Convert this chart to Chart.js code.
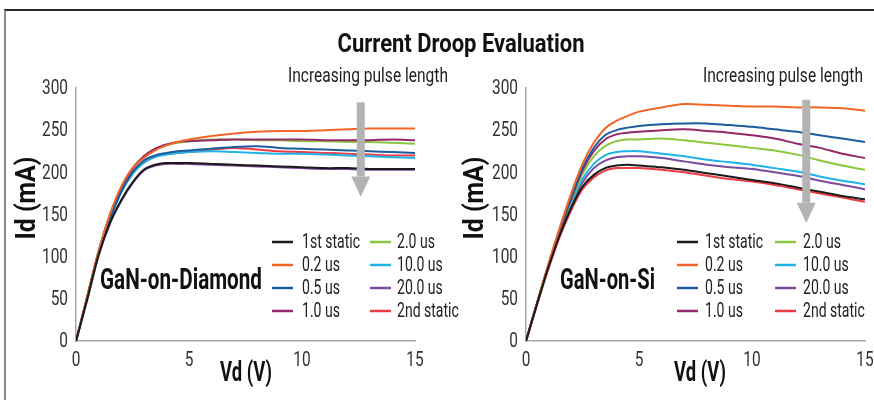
<!DOCTYPE html>
<html>
<head>
<meta charset="utf-8">
<script src="https://cdn.jsdelivr.net/npm/chart.js@4.4.1/dist/chart.umd.min.js"></script>
<style>
  html, body { margin: 0; padding: 0; background: #fff; }
  #wrap { position: relative; width: 874px; height: 400px; overflow: hidden; }
  #frame { position: absolute; left: 4px; top: 9px; right: 0; bottom: 0; border-top: 2px solid #2a2a2a; border-left: 2px solid #8a8a8a; }
  #title { position: absolute; left: 0; width: 922px; top: 28px; text-align: center; font: bold 26px Roboto, sans-serif; color: #111; white-space: nowrap; }
  #title span { display: inline-block; transform-origin: 50% 50%; }
  canvas { position: absolute; top: 0; }
</style>
</head>
<body>
<div id="wrap">
  <div id="frame"></div>
  <canvas id="diamond" width="470" height="400" style="left:0"></canvas>
  <canvas id="si" width="437" height="400" style="left:437px"></canvas>
  <div id="title"><span>Current Droop Evaluation</span></div>
</div>
<script>
const FONT = 'Roboto, sans-serif'

// drain voltage (V)
const vd = [0, 0.5, 1, 1.5, 2, 2.5, 3, 3.5, 4, 4.5, 5, 6, 7, 8, 9, 10, 11, 12, 13, 14, 15]

const seriesNames = ['1st static', '0.2 us', '0.5 us', '1.0 us', '2.0 us', '10.0 us', '20.0 us', '2nd static']
const colours = ['#1a1a1a', '#f26527', '#1d5c9e', '#93296b', '#8cc63f', '#1fb4e8', '#7a4b9d', '#ee3a43']

// drain current (mA), GaN-on-Diamond
const diamondStatic1 = [0, 50, 102, 140, 167, 188, 203, 209, 211, 211, 211, 210, 209, 208, 207, 206, 205, 205, 204, 204, 204]
const diamond02 = [0, 53, 106, 150, 183, 205, 217, 226, 232, 236, 239, 243, 246, 248, 249, 249, 250, 251, 252, 252, 252]
const diamond05 = [0, 52, 104, 145, 177, 200, 214, 220, 223, 225, 226, 228, 230, 231, 229, 228, 227, 226, 225, 224, 223]
const diamond10 = [0, 53, 106, 149, 181, 204, 219, 228, 233, 236, 237, 238, 239, 239, 239, 239, 238, 238, 238, 239, 238]
const diamond20 = [0, 53, 107, 150, 182, 205, 219, 227, 232, 235, 237, 239, 239, 238, 238, 237, 237, 236, 236, 235, 234]
const diamond100 = [0, 51, 102, 143, 176, 198, 211, 218, 221, 223, 224, 225, 224, 223, 222, 222, 221, 220, 219, 218, 217]
const diamond200 = [0, 49, 101, 139, 166, 187, 202, 208, 210, 210, 210, 209, 208, 207, 206, 205, 204, 204, 203, 203, 203]
const diamondStatic2 = [0, 52, 104, 145, 178, 200, 213, 219, 222, 223, 224, 227, 229, 227, 225, 224, 223, 222, 221, 220, 220]

// drain current (mA), GaN-on-Si
const siStatic1 = [0, 45, 88, 126, 158, 183, 197, 205, 208, 209, 208, 206, 203, 199, 195, 191, 187, 182, 177, 172, 168]
const si02 = [0, 46, 92, 135, 175, 210, 235, 252, 261, 267, 272, 277, 281, 280, 279, 278, 278, 277, 277, 276, 273]
const si05 = [0, 46, 91, 133, 170, 205, 229, 244, 250, 253, 255, 257, 258, 258, 256, 254, 251, 248, 244, 240, 236]
const si10 = [0, 46, 91, 132, 168, 202, 225, 239, 245, 247, 248, 250, 251, 249, 247, 244, 240, 234, 229, 222, 217]
const si20 = [0, 46, 90, 131, 166, 198, 219, 231, 237, 239, 239, 240, 238, 235, 232, 229, 226, 221, 214, 208, 203]
const si100 = [0, 45, 89, 129, 163, 192, 210, 220, 224, 225, 225, 222, 219, 215, 212, 209, 205, 201, 195, 190, 186]
const si200 = [0, 45, 89, 128, 161, 188, 205, 214, 218, 219, 219, 217, 213, 209, 206, 204, 200, 196, 190, 185, 180]
const siStatic2 = [0, 44, 86, 124, 155, 180, 194, 202, 205, 205, 205, 203, 200, 196, 192, 189, 185, 180, 175, 170, 165]

const yTicks = [0, 50, 100, 150, 200, 250, 300]
const xTicks = [0, 5, 10, 15]

// the source uses a very condensed face, so text is squeezed horizontally
function squeeze(ctx, text, x, y, sx, align) {
  ctx.save()
  ctx.translate(x, y)
  ctx.scale(sx, 1)
  ctx.textAlign = align
  ctx.fillText(text, 0, 0)
  ctx.restore()
}

const fitTo = (ctx, text, w) => w / ctx.measureText(text).width

const narrowTicks = {
  id: 'narrowTicks',
  afterDraw(chart) {
    const { ctx, scales: { x, y } } = chart
    ctx.save()
    ctx.fillStyle = '#333'
    ctx.textBaseline = 'middle'
    ctx.font = '21px ' + FONT
    const sx = fitTo(ctx, '300', 26)
    y.ticks.forEach(t => squeeze(ctx, String(t.value), x.left - 8, y.getPixelForValue(t.value) + 1, sx, 'right'))
    x.ticks.forEach(t => squeeze(ctx, String(t.value), x.getPixelForValue(t.value), 361, sx, 'center'))
    ctx.restore()
  }
}

const pairLegend = {
  id: 'pairLegend',
  afterDraw(chart, args, opts) {
    const ctx = chart.ctx
    ctx.save()
    ctx.font = '20px ' + FONT
    ctx.textBaseline = 'middle'
    const sx = fitTo(ctx, '1st static', 58)
    chart.data.datasets.forEach((d, i) => {
      const col = Math.floor(i / 4)
      const y = opts.top + (i % 4) * opts.rowGap
      ctx.strokeStyle = d.borderColor
      ctx.lineWidth = 2.5
      ctx.beginPath()
      ctx.moveTo(opts.lineX[col], y)
      ctx.lineTo(opts.lineX[col] + 21, y)
      ctx.stroke()
      ctx.fillStyle = '#222'
      squeeze(ctx, d.label, opts.textX[col], y + 1, sx, 'left')
    })
    ctx.restore()
  }
}

const notes = {
  id: 'notes',
  afterDatasetsDraw(chart, args, opts) {
    const { ctx, scales: { x, y } } = chart
    const ax = x.getPixelForValue(opts.arrow.x)
    const top = y.getPixelForValue(opts.arrow.from)
    const head = y.getPixelForValue(opts.arrow.head)
    const tip = y.getPixelForValue(opts.arrow.to)
    ctx.save()
    ctx.fillStyle = '#b3b3b3'
    ctx.fillRect(ax - 4, top, 8, head - top)
    ctx.beginPath()
    ctx.moveTo(ax - 9.5, head)
    ctx.lineTo(ax + 9.5, head)
    ctx.lineTo(ax, tip)
    ctx.closePath()
    ctx.fill()

    ctx.textBaseline = 'middle'
    ctx.fillStyle = '#222'
    ctx.font = '21px ' + FONT
    const pulse = 'Increasing pulse length'
    squeeze(ctx, pulse, opts.pulseX, 77, fitTo(ctx, pulse, 160), 'center')

    ctx.fillStyle = '#111'
    ctx.font = 'bold 29px ' + FONT
    squeeze(ctx, opts.name, opts.nameX, 282, fitTo(ctx, opts.name, opts.nameW), 'left')

    ctx.font = 'bold 27px ' + FONT
    squeeze(ctx, 'Vd (V)', opts.vdX, 374, fitTo(ctx, 'Vd (V)', 52), 'center')

    ctx.font = 'bold 28px ' + FONT
    const f = fitTo(ctx, 'Id (mA)', 83)
    ctx.translate(opts.idX, 198)
    ctx.rotate(-Math.PI / 2)
    squeeze(ctx, 'Id (mA)', 0, 0, f, 'center')
    ctx.restore()
  }
}

function makeChart(id, series, cfg) {
  return new Chart(document.getElementById(id), {
    type: 'line',
    data: {
      labels: vd,
      datasets: series.map((s, i) => ({
        label: seriesNames[i],
        data: s.map((v, j) => ({ x: vd[j], y: v })),
        borderColor: colours[i],
        borderWidth: 2,
        pointRadius: 0,
        tension: 0.35
      }))
    },
    options: {
      responsive: false,
      animation: false,
      layout: { padding: { left: 0, top: 88, right: cfg.padRight, bottom: 0 } },
      plugins: {
        legend: { display: false },
        tooltip: { enabled: false },
        pairLegend: cfg.legend,
        notes: cfg.notes
      },
      scales: {
        x: {
          type: 'linear',
          min: 0,
          max: 15,
          afterBuildTicks: s => { s.ticks = xTicks.map(v => ({ value: v })) },
          afterFit: s => { s.height = 59 },
          grid: { drawOnChartArea: false, drawTicks: false },
          border: { color: '#a8a8a8', width: 1.5 },
          ticks: { display: false }
        },
        y: {
          min: 0,
          max: 300,
          afterBuildTicks: s => { s.ticks = yTicks.map(v => ({ value: v })) },
          afterFit: s => { s.width = cfg.axisWidth },
          grid: { drawOnChartArea: false, drawTicks: false },
          border: { color: '#a8a8a8', width: 1.5 },
          ticks: { display: false }
        }
      }
    },
    plugins: [notes, pairLegend, narrowTicks]
  })
}

makeChart('diamond',
  [diamondStatic1, diamond02, diamond05, diamond10, diamond20, diamond100, diamond200, diamondStatic2],
  {
    padRight: 55,
    axisWidth: 76,
    legend: { top: 242, rowGap: 23, lineX: [272, 370], textX: [302, 397] },
    notes: {
      arrow: { x: 12.6, from: 283, head: 195, to: 171 },
      pulseX: 368, name: 'GaN-on-Diamond', nameX: 100, nameW: 162, vdX: 246, idX: 28
    }
  })

makeChart('si',
  [siStatic1, si02, si05, si10, si20, si100, si200, siStatic2],
  {
    padRight: 9,
    axisWidth: 89,
    legend: { top: 242, rowGap: 23, lineX: [240, 338], textX: [268, 366] },
    notes: {
      arrow: { x: 12.4, from: 286, head: 164, to: 140 },
      pulseX: 346, name: 'GaN-on-Si', nameX: 123, nameW: 95, vdX: 263, idX: 39
    }
  })

const title = document.querySelector('#title span')
title.style.transform = 'scaleX(' + (247 / title.getBoundingClientRect().width) + ')'
</script>
</body>
</html>
